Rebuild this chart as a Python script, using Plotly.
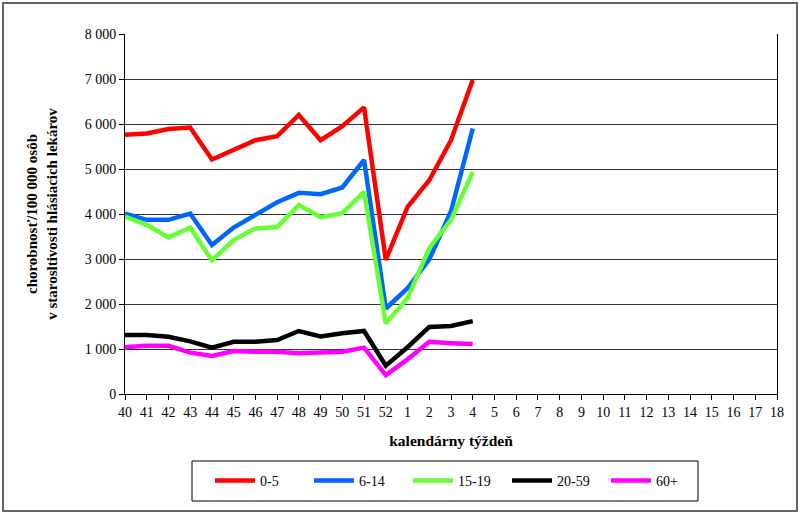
import plotly.graph_objects as go

weeks = ["40", "41", "42", "43", "44", "45", "46", "47", "48", "49", "50", "51", "52",
         "1", "2", "3", "4", "5", "6", "7", "8", "9", "10", "11", "12", "13", "14", "15", "16", "17", "18"]

v_0_5 = [5760, 5790, 5890, 5920, 5210, 5420, 5640, 5730, 6200, 5640, 5950, 6370, 2980,
         4160, 4750, 5640, 6980]
v_6_14 = [4010, 3870, 3870, 4010, 3310, 3700, 3980, 4260, 4470, 4440, 4590, 5200, 1900,
          2350, 2990, 4060, 5900]
v_15_19 = [3940, 3760, 3480, 3700, 2970, 3420, 3680, 3710, 4200, 3930, 4020, 4490, 1570,
           2130, 3240, 3870, 4930]
v_20_59 = [1310, 1310, 1270, 1170, 1030, 1160, 1160, 1200, 1400, 1280, 1350, 1400, 630,
           1040, 1490, 1510, 1620]
v_60p = [1040, 1070, 1070, 920, 845, 955, 940, 940, 905, 920, 940, 1030, 420,
         770, 1160, 1130, 1110]

series = [
    ("0-5", v_0_5, "#FF0000"),
    ("6-14", v_6_14, "#0066FF"),
    ("15-19", v_15_19, "#66FF33"),
    ("20-59", v_20_59, "#000000"),
    ("60+", v_60p, "#FF00FF"),
]

y_tickvals = [0, 1000, 2000, 3000, 4000, 5000, 6000, 7000, 8000]
y_ticktext = ["0", "1 000", "2 000", "3 000", "4 000", "5 000", "6 000", "7 000", "8 000"]

FONT = "Liberation Serif"

fig = go.Figure()
for name, vals, color in series:
    fig.add_trace(go.Scatter(
        x=weeks[:len(vals)], y=vals, name=name, mode="lines",
        line=dict(color=color, width=4.5),
    ))

# plot area in pixels: left 125, right 777, top 34, bottom 394
def px_x(p):
    return (p - 125) / 652.0

def px_y(p):
    return (394 - p) / 360.0

fig.update_layout(
    width=800, height=515,
    margin=dict(l=125, r=23, t=34, b=121),
    paper_bgcolor="white", plot_bgcolor="white",
    font=dict(family=FONT, size=13, color="black"),
    showlegend=True,
    legend=dict(
        orientation="h",
        x=px_x(210), y=px_y(465), xanchor="left", yanchor="top",
        borderwidth=0, bgcolor="rgba(0,0,0,0)",
        font=dict(family=FONT, size=14, color="black"),
        entrywidth=44,
        itemwidth=40,
        traceorder="normal",
    ),
    xaxis=dict(
        type="category", categoryorder="array", categoryarray=weeks,
        range=[0, 30],
        showgrid=False, showline=True, linecolor="black", linewidth=1,
        ticks="outside", ticklen=5, tickcolor="black",
        tickfont=dict(family=FONT, size=14),
        title=dict(text="<b>kalendárny týždeň</b>", font=dict(family=FONT, size=15.5), standoff=16),
        zeroline=False, fixedrange=True,
    ),
    yaxis=dict(
        range=[0, 8000],
        tickvals=y_tickvals, ticktext=y_ticktext,
        showgrid=True, gridcolor="#333333", gridwidth=1,
        showline=True, linecolor="black", linewidth=1, mirror=True,
        ticks="outside", ticklen=5, tickcolor="black",
        tickfont=dict(family=FONT, size=14),
        title=dict(text="<b>chorobnosť/100 000 osôb<br>v starosltivosti hlásiacich lekárov</b>",
                   font=dict(family=FONT, size=15), standoff=23),
        zeroline=False, fixedrange=True,
    ),
)

# legend box
fig.add_shape(type="rect", xref="paper", yref="paper",
              x0=px_x(192), x1=px_x(698), y0=px_y(501), y1=px_y(461),
              line=dict(color="black", width=1), layer="below")

# outer chart border
fig.add_shape(type="rect", xref="paper", yref="paper",
              x0=px_x(3), x1=px_x(797), y0=px_y(511), y1=px_y(3),
              line=dict(color="#666666", width=2), layer="below")

fig.write_html("out.html")
